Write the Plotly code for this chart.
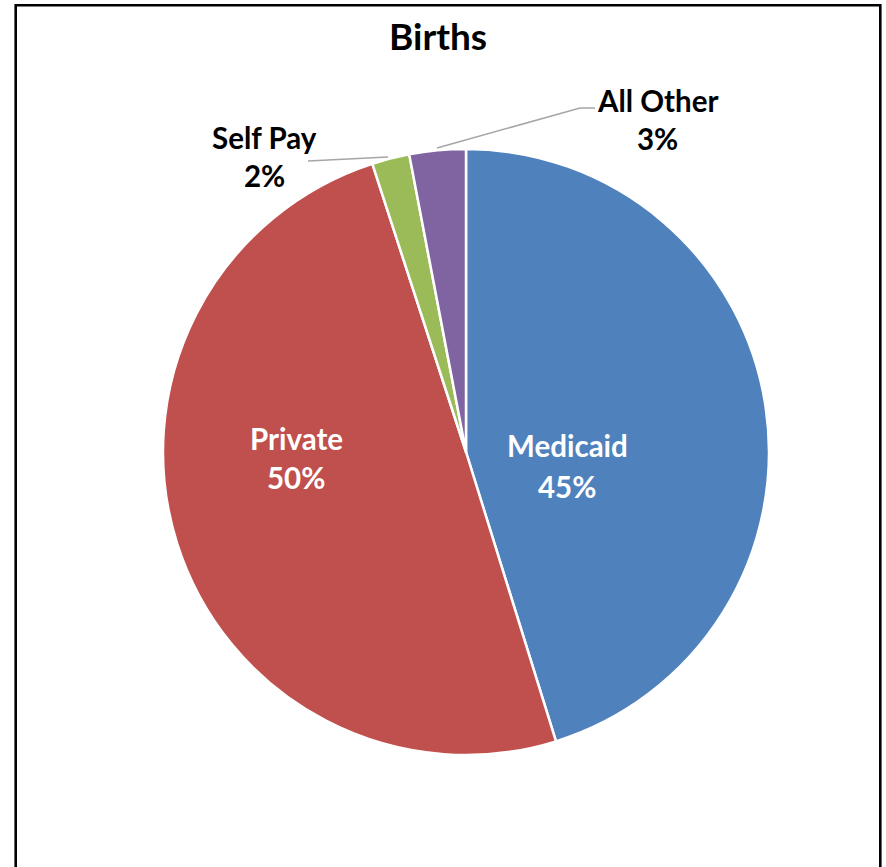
import plotly.graph_objects as go

categories = ["Medicaid", "Private", "Self Pay", "All Other"]
values = [45.2, 49.8, 2.0, 3.0]
pct_labels = ["45%", "50%", "2%", "3%"]
colors = ["#4F81BD", "#C0504D", "#9BBB59", "#8064A2"]

W, H = 886, 867

def px(x):
    return x / W

def py(y):
    return 1 - y / H

fig = go.Figure()
fig.add_trace(go.Pie(
    labels=categories,
    values=values,
    sort=False,
    direction="clockwise",
    rotation=0,
    textinfo="none",
    hoverinfo="label+percent",
    marker=dict(colors=colors, line=dict(color="white", width=2.5)),
    domain=dict(x=[px(163), px(769)], y=[py(755), py(149)]),
    showlegend=False,
))

font_family = "Lato"
label_pos = {
    "Medicaid": (567, 446, 486, "white"),
    "Private": (296, 438, 477, "white"),
    "Self Pay": (264, 137, 176, "black"),
    "All Other": (657, 100, 139, "black"),
}
annotations = []
for cat, pct in zip(categories, pct_labels):
    x, y1, y2, c = label_pos[cat]
    for txt, yy in ((cat, y1), (pct, y2)):
        annotations.append(dict(
            x=px(x), y=py(yy), xref="paper", yref="paper",
            text=f"<b>{txt}</b>", showarrow=False,
            xanchor="center", yanchor="middle",
            font=dict(family=font_family, size=29.5, color=c),
        ))
annotations.append(dict(
    x=px(438), y=py(36), xref="paper", yref="paper",
    text="<b>Births</b>", showarrow=False, xanchor="center", yanchor="middle",
    font=dict(family=font_family, size=37, color="black"),
))

shapes = [
    # frame
    dict(type="rect", xref="paper", yref="paper",
         x0=px(15.7), x1=px(880.3), y0=py(890), y1=py(5.2),
         line=dict(color="black", width=2.6), fillcolor="rgba(0,0,0,0)"),
    # leader lines
    dict(type="path", xref="paper", yref="paper",
         path=f"M {px(308)} {py(161)} L {px(388)} {py(157)}",
         line=dict(color="#A6A6A6", width=1.5)),
    dict(type="path", xref="paper", yref="paper",
         path=f"M {px(437)} {py(148)} L {px(580)} {py(108)} L {px(595)} {py(108)}",
         line=dict(color="#A6A6A6", width=1.5)),
]

fig.update_layout(
    width=W, height=H,
    margin=dict(l=0, r=0, t=0, b=0),
    paper_bgcolor="white",
    plot_bgcolor="white",
    annotations=annotations,
    shapes=shapes,
)

fig.write_html(
    "out.html",
    config={"displayModeBar": False},
    post_script="document.body.style.margin='0';document.body.style.overflow='hidden';",
)
